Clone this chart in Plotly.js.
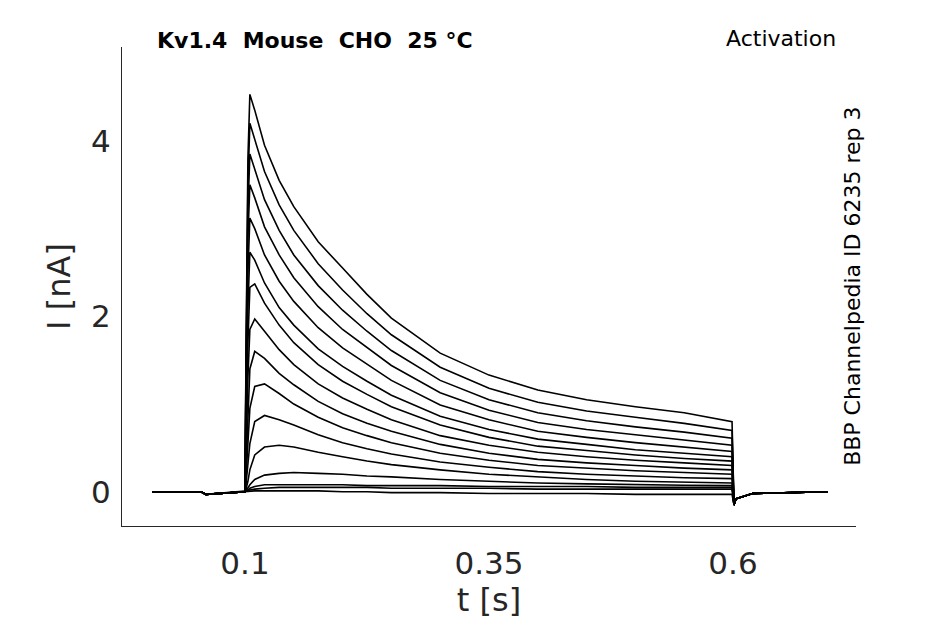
<!DOCTYPE html>
<html>
<head>
<meta charset="utf-8">
<script src="https://cdn.plot.ly/plotly-3.0.1.min.js"></script>
<style>body{margin:0}#plot{width:945px;height:624px}</style>
</head>
<body>
<div id="plot"></div>
<script>
// sample times [s]
const t = [0.005, 0.055, 0.06, 0.1,
  0.101, 0.103, 0.105, 0.11, 0.12, 0.135, 0.15, 0.175, 0.2, 0.225, 0.25, 0.3, 0.35, 0.4, 0.45, 0.5, 0.55, 0.599,
  0.601, 0.603, 0.62, 0.697];

// holding level before the step and tail after it [nA]
const pre = [0, 0, -0.03, 0];
const tail = [-0.15, -0.08, -0.02, 0];

// currents during the step [nA], one row per voltage step
const I01 = [1.5, 3.8, 4.53, 4.35, 3.95, 3.55, 3.25, 2.85, 2.55, 2.25, 1.98, 1.58, 1.33, 1.16, 1.05, 0.97, 0.9, 0.8];
const I02 = [1.4, 3.5, 4.2, 4.02, 3.65, 3.27, 2.98, 2.6, 2.3, 2.03, 1.79, 1.42, 1.18, 1.02, 0.92, 0.85, 0.78, 0.7];
const I03 = [1.3, 3.2, 3.85, 3.68, 3.33, 2.98, 2.7, 2.35, 2.07, 1.83, 1.61, 1.27, 1.05, 0.9, 0.81, 0.74, 0.68, 0.61];
const I04 = [1.2, 2.9, 3.5, 3.35, 3.02, 2.7, 2.44, 2.11, 1.85, 1.64, 1.44, 1.13, 0.93, 0.79, 0.71, 0.65, 0.59, 0.53];
const I05 = [1.0, 2.5, 3.12, 3.0, 2.7, 2.4, 2.17, 1.87, 1.64, 1.45, 1.27, 0.99, 0.82, 0.69, 0.62, 0.56, 0.51, 0.46];
const I06 = [0.8, 2.1, 2.73, 2.64, 2.38, 2.1, 1.9, 1.63, 1.43, 1.26, 1.1, 0.86, 0.71, 0.6, 0.54, 0.48, 0.44, 0.4];
const I07 = [0.6, 1.7, 2.33, 2.37, 2.15, 1.9, 1.7, 1.45, 1.26, 1.11, 0.97, 0.76, 0.62, 0.52, 0.47, 0.42, 0.38, 0.35];
const I08 = [0.4, 1.3, 1.85, 1.97, 1.83, 1.62, 1.45, 1.23, 1.07, 0.94, 0.82, 0.64, 0.53, 0.45, 0.4, 0.36, 0.33, 0.3];
const I09 = [0.25, 0.9, 1.4, 1.6, 1.52, 1.35, 1.22, 1.03, 0.89, 0.78, 0.69, 0.54, 0.44, 0.37, 0.33, 0.3, 0.27, 0.25];
const I10 = [0.15, 0.55, 0.95, 1.2, 1.23, 1.12, 1.0, 0.85, 0.73, 0.64, 0.56, 0.44, 0.36, 0.3, 0.27, 0.24, 0.22, 0.2];
const I11 = [0.08, 0.3, 0.55, 0.8, 0.87, 0.82, 0.76, 0.65, 0.56, 0.49, 0.43, 0.34, 0.28, 0.23, 0.2, 0.18, 0.16, 0.15];
const I12 = [0.03, 0.12, 0.25, 0.42, 0.51, 0.53, 0.51, 0.45, 0.4, 0.35, 0.31, 0.25, 0.2, 0.17, 0.14, 0.12, 0.11, 0.1];
const I13 = [0.01, 0.04, 0.08, 0.14, 0.19, 0.21, 0.22, 0.21, 0.2, 0.18, 0.17, 0.14, 0.12, 0.1, 0.09, 0.08, 0.075, 0.07];
const I14 = [0.01, 0.02, 0.04, 0.06, 0.08, 0.08, 0.08, 0.08, 0.08, 0.07, 0.07, 0.07, 0.06, 0.06, 0.06, 0.05, 0.05, 0.05];
const I15 = [0, 0.01, 0.02, 0.03, 0.04, 0.05, 0.05, 0.05, 0.05, 0.05, 0.04, 0.04, 0.04, 0.03, 0.03, 0.03, 0.03, 0.03];
const I16 = [0, 0, 0.01, 0.01, 0.01, 0.01, 0.01, 0.01, 0, 0, -0.01, -0.01, -0.02, -0.02, -0.02, -0.03, -0.03, -0.03];

const steps = [I01, I02, I03, I04, I05, I06, I07, I08, I09, I10, I11, I12, I13, I14, I15, I16];

let data = steps.map(s => ({
  type: 'scatter', mode: 'lines', x: t, y: pre.concat(s, tail),
  line: {color: 'black', width: 1.6}, hoverinfo: 'none'
}));

let axisFont = {family: 'DejaVu Sans', size: 31, color: '#262626'};
let titleFont = {family: 'DejaVu Sans', size: 32, color: '#262626'};

let layout = {
  width: 945, height: 624,
  showlegend: false,
  paper_bgcolor: 'white', plot_bgcolor: 'white',
  margin: {l: 122, r: 89, t: 47, b: 98},
  xaxis: {
    range: [-0.026, 0.726],
    tickvals: [0.1, 0.35, 0.6], ticktext: ['0.1', '0.35', '0.6'],
    ticks: 'outside', ticklen: 10, tickcolor: 'white',
    showgrid: false, zeroline: false,
    showline: true, linecolor: '#262626', linewidth: 1,
    tickfont: axisFont,
    title: {text: 't [s]', font: titleFont, standoff: 6}
  },
  yaxis: {
    range: [-0.39, 5.07],
    tickvals: [0, 2, 4],
    ticks: 'outside', ticklen: 4, tickcolor: 'white',
    showgrid: false, zeroline: false,
    showline: true, linecolor: '#262626', linewidth: 1,
    tickfont: axisFont,
    title: {text: 'I [nA]', font: titleFont, standoff: 10}
  },
  annotations: [
    {xref: 'paper', yref: 'paper', x: 0.045, y: 1.0, xanchor: 'left', yanchor: 'bottom', yshift: -8,
     text: '<b>Kv1.4  Mouse  CHO  25 °C</b>', showarrow: false,
     font: {family: 'DejaVu Sans', size: 22, color: 'black'}},
    {xref: 'paper', yref: 'paper', x: 0.975, y: 1.0, xanchor: 'right', yanchor: 'bottom', yshift: -6,
     text: 'Activation', showarrow: false,
     font: {family: 'DejaVu Sans', size: 22, color: 'black'}},
    {xref: 'paper', yref: 'paper', x: 0.995, y: 0.5, xanchor: 'center', yanchor: 'middle',
     text: 'BBP Channelpedia ID 6235 rep 3', textangle: -90, showarrow: false,
     font: {family: 'DejaVu Sans', size: 22, color: 'black'}}
  ]
};

Plotly.newPlot('plot', data, layout, {displayModeBar: false});
</script>
</body>
</html>
